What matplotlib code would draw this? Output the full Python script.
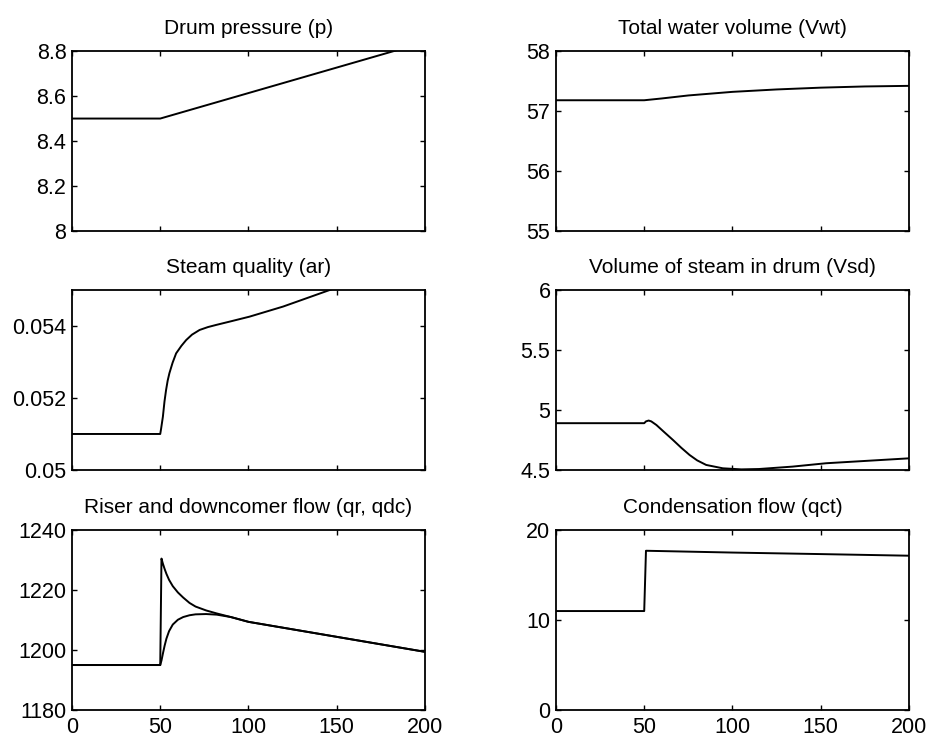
import matplotlib
matplotlib.use("Agg")
import matplotlib.pyplot as plt

plt.rcParams['font.family'] = ['Liberation Sans', 'DejaVu Sans']

# ---- data ----
t_p = [0, 50, 200]
p = [8.5, 8.5, 8.84]

t_vwt = [0, 50, 60, 75, 100, 125, 150, 175, 200]
vwt = [57.18, 57.18, 57.21, 57.26, 57.32, 57.36, 57.39, 57.41, 57.42]

t_ar = [0, 50, 50.5, 51.5, 52.4, 53.3, 54.2, 55.2, 57, 59, 62, 64.7, 68, 72.3,
        77, 81.7, 90, 100.6, 119.6, 146, 200]
ar = [0.0510, 0.0510, 0.05115, 0.05148, 0.05190, 0.05222, 0.05248, 0.05269,
      0.05298, 0.05324, 0.05345, 0.05361, 0.05376, 0.05389, 0.05397, 0.05403,
      0.05413, 0.05426, 0.05454, 0.0550, 0.0559]

t_vsd = [0, 50, 51, 52.5, 54, 56.9, 61, 66.3, 71, 75.7, 80, 85.1, 94.5, 105,
         115, 134, 153, 200]
vsd = [4.89, 4.89, 4.905, 4.912, 4.905, 4.875, 4.82, 4.75, 4.685, 4.625, 4.58,
       4.542, 4.514, 4.505, 4.508, 4.528, 4.556, 4.597]

t_qr = [0, 50, 50.7, 51.5, 52.5, 53.5, 55, 57.1, 60, 63, 66.6, 70, 76, 82, 90, 100, 150, 200]
qr = [1195, 1195, 1230.5, 1228.8, 1227.0, 1225.4, 1223.4, 1221.3, 1219.2, 1217.5,
      1215.7, 1214.5, 1213.2, 1212.2, 1211.0, 1209.4, 1204.4, 1199.4]

t_qdc = [0, 50, 50.7, 51.5, 52.5, 53.5, 55, 57.1, 60, 63, 66.6, 70, 76, 82, 90, 100, 150, 200]
qdc = [1195, 1195, 1196.5, 1198.8, 1201.5, 1203.8, 1206.3, 1208.5, 1210.1, 1211.0,
       1211.6, 1211.9, 1212.0, 1211.8, 1211.0, 1209.4, 1204.4, 1199.4]

t_qct = [0, 50, 51, 100, 150, 200]
qct = [11.0, 11.0, 17.7, 17.5, 17.33, 17.15]

titles = ["Drum pressure (p)", "Total water volume (Vwt)",
          "Steam quality (ar)", "Volume of steam in drum (Vsd)",
          "Riser and downcomer flow (qr, qdc)", "Condensation flow (qct)"]

xticks = [0, 50, 100, 150, 200]
xticklabels = ["0", "50", "100", "150", "200"]

yticks = [[8, 8.2, 8.4, 8.6, 8.8], [55, 56, 57, 58],
          [0.05, 0.052, 0.054], [4.5, 5, 5.5, 6],
          [1180, 1200, 1220, 1240], [0, 10, 20]]
yticklabels = [["8", "8.2", "8.4", "8.6", "8.8"], ["55", "56", "57", "58"],
               ["0.05", "0.052", "0.054"], ["4.5", "5", "5.5", "6"],
               ["1180", "1200", "1220", "1240"], ["0", "10", "20"]]
ylims = [(8, 8.8), (55, 58), (0.05, 0.055), (4.5, 6), (1180, 1240), (0, 20)]

fig = plt.figure(figsize=(9.3, 7.4), dpi=100)
lefts = [0.0774, 0.5978]
bottoms = [0.6878, 0.3649, 0.0405]
w, h = 0.3796, 0.2432

series = [[(t_p, p)], [(t_vwt, vwt)], [(t_ar, ar)], [(t_vsd, vsd)],
          [(t_qr, qr), (t_qdc, qdc)], [(t_qct, qct)]]

for i in range(6):
    r, c = divmod(i, 2)
    ax = fig.add_axes([lefts[c], bottoms[r], w, h])
    for tx, ty in series[i]:
        ax.plot(tx, ty, color='black', lw=1.4)
    ax.set_xlim(0, 200)
    ax.set_ylim(*ylims[i])
    ax.set_xticks(xticks)
    ax.set_yticks(yticks[i])
    ax.set_yticklabels(yticklabels[i])
    if r == 2:
        ax.set_xticklabels(xticklabels)
    else:
        ax.set_xticklabels([])
    ax.tick_params(direction='in', top=True, right=True, length=3.5,
                   width=1.0, labelsize=15.5)
    ax.tick_params(axis='y', pad=4)
    ax.tick_params(axis='x', pad=5)
    for s in ax.spines.values():
        s.set_linewidth(1.3)
    ax.set_title(titles[i], fontsize=15, pad=12)

fig.savefig("out.png", dpi=100)
